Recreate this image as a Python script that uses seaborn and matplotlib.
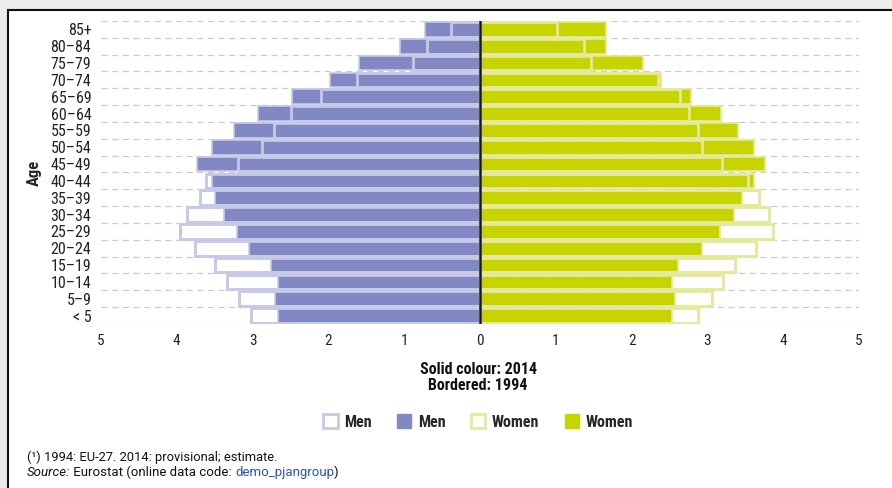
import numpy as np
import matplotlib
matplotlib.use('Agg')
import matplotlib.pyplot as plt
from matplotlib import font_manager
from matplotlib.patches import Patch, Rectangle
import seaborn as sns

# Age groups, top to bottom
ages = ['85+', '80–84', '75–79', '70–74', '65–69', '60–64', '55–59', '50–54', '45–49',
        '40–44', '35–39', '30–34', '25–29', '20–24', '15–19', '10–14', '5–9', '< 5']

# % of total population
men_2014 = [0.73, 1.05, 1.59, 1.98, 2.48, 2.93, 3.24, 3.53, 3.73,
            3.54, 3.49, 3.38, 3.21, 3.05, 2.76, 2.66, 2.71, 2.67]
men_1994 = [0.38, 0.70, 0.88, 1.62, 2.10, 2.49, 2.72, 2.88, 3.19,
            3.62, 3.69, 3.87, 3.96, 3.76, 3.50, 3.34, 3.18, 3.02]
women_2014 = [1.66, 1.66, 2.15, 2.39, 2.79, 3.18, 3.40, 3.61, 3.76,
              3.62, 3.46, 3.35, 3.16, 2.93, 2.61, 2.53, 2.57, 2.53]
women_1994 = [1.02, 1.37, 1.46, 2.35, 2.64, 2.76, 2.87, 2.93, 3.19,
              3.53, 3.68, 3.81, 3.86, 3.64, 3.36, 3.20, 3.06, 2.88]

x_ticks = list(range(-5, 6))
x_labels = [str(abs(t)) for t in x_ticks]

men_solid, men_light = '#8288c4', '#c6c9e8'
women_solid, women_light = '#c8d400', '#e4e99c'

sns.set_theme(style='white')

# pick a narrow font if there is one
available = {f.name for f in font_manager.fontManager.ttflist}
narrow = next((f for f in ['Liberation Sans Narrow', 'Roboto Condensed', 'Open Sans Condensed']
               if f in available), 'Liberation Sans')
plt.rcParams['font.family'] = [narrow, 'DejaVu Sans']
note_font = ['Roboto', 'DejaVu Sans']

fig = plt.figure(figsize=(8.92, 4.88), dpi=100, facecolor='#ececec')
fig.patches.append(Rectangle((8 / 892, -0.05), 1.1, 1 - 10 / 488 + 0.05,
                             transform=fig.transFigure, facecolor='white',
                             edgecolor='#111111', linewidth=1.5, zorder=-10))

ax = fig.add_axes([101 / 892, 1 - 324 / 488, 758 / 892, 303 / 488])
ax.set_zorder(2)
ax.set_facecolor('none')

neg_men_2014 = [-v for v in men_2014]
neg_men_1994 = [-v for v in men_1994]

common = dict(y=ages, order=ages, orient='h', errorbar=None, saturation=1, width=0.88, ax=ax)

# 1994 boxes, white inside
sns.barplot(x=neg_men_1994, color='white', edgecolor=men_light, linewidth=2, zorder=2, **common)
sns.barplot(x=women_1994, color='white', edgecolor=women_light, linewidth=2, zorder=2, **common)
# 2014 solid
sns.barplot(x=neg_men_2014, color=men_solid, edgecolor=men_light, linewidth=1.2, zorder=3, **common)
sns.barplot(x=women_2014, color=women_solid, edgecolor=women_light, linewidth=1.2, zorder=3, **common)
# 1994 outline on top
sns.barplot(x=neg_men_1994, color=men_light, fill=False, linewidth=2, zorder=4, **common)
sns.barplot(x=women_1994, color=women_light, fill=False, linewidth=2, zorder=4, **common)

ax.axvline(0, color='#1a1a1a', linewidth=1.8, zorder=5)

ax.set_xlim(-5, 5)
ax.set_ylim(len(ages) - 0.5, -0.5)
ax.set_xticks(x_ticks)
ax.set_xticklabels(x_labels)
ax.set_yticks(np.arange(-0.5, len(ages)), minor=True)
ax.grid(which='minor', axis='y', linestyle=(0, (5, 3.5)), color='#cccccc', linewidth=0.9, zorder=0)
ax.grid(which='major', visible=False)
ax.set_axisbelow(True)
ax.tick_params(axis='both', which='both', length=0, colors='#222222')
ax.tick_params(axis='x', labelsize=11, pad=7)
ax.tick_params(axis='y', labelsize=11.5, pad=7)
for s in ax.spines.values():
    s.set_visible(False)
ax.set_xlabel('')
ax.set_ylabel('Age', fontsize=12, fontweight='bold', labelpad=6)

fig.text(478 / 892, 1 - 370 / 488, 'Solid colour: 2014', ha='center', va='center',
         fontsize=11.5, fontweight='bold', color='#111111')
fig.text(478 / 892, 1 - 386 / 488, 'Bordered: 1994', ha='center', va='center',
         fontsize=11.5, fontweight='bold', color='#111111')

handles = [Patch(facecolor='white', edgecolor=men_light, linewidth=2, label='Men'),
           Patch(facecolor=men_solid, edgecolor=men_solid, label='Men'),
           Patch(facecolor='white', edgecolor=women_light, linewidth=2, label='Women'),
           Patch(facecolor=women_solid, edgecolor=women_solid, label='Women')]
fig.legend(handles=handles, loc='center', bbox_to_anchor=(478 / 892, 1 - 422 / 488), ncol=4,
           frameon=False, prop={'weight': 'bold', 'size': 11.5}, handlelength=0.9,
           handleheight=0.9, handletextpad=0.4, columnspacing=1.6)

fig.text(27 / 892, 1 - 457 / 488, '(¹) 1994: EU-27. 2014: provisional; estimate.',
         ha='left', va='center', fontsize=9.3, color='#111111', family=note_font)
src = fig.text(27 / 892, 1 - 479 / 488, 'Source:', ha='left', va='bottom',
               fontsize=9.5, style='italic', color='#111111', family=note_font)
t2 = ax.annotate(' Eurostat (online data code: ', xy=(1, 0), xycoords=src, va='bottom',
                 ha='left', fontsize=9.5, color='#111111', family=note_font,
                 annotation_clip=False)
t3 = ax.annotate('demo_pjangroup', xy=(1, 0), xycoords=t2, va='bottom', ha='left',
                 fontsize=9.5, color='#2a52be', family=note_font, annotation_clip=False)
ax.annotate(')', xy=(1, 0), xycoords=t3, va='bottom', ha='left',
            fontsize=9.5, color='#111111', family=note_font, annotation_clip=False)

fig.savefig('out.png', dpi=100, facecolor=fig.get_facecolor())
